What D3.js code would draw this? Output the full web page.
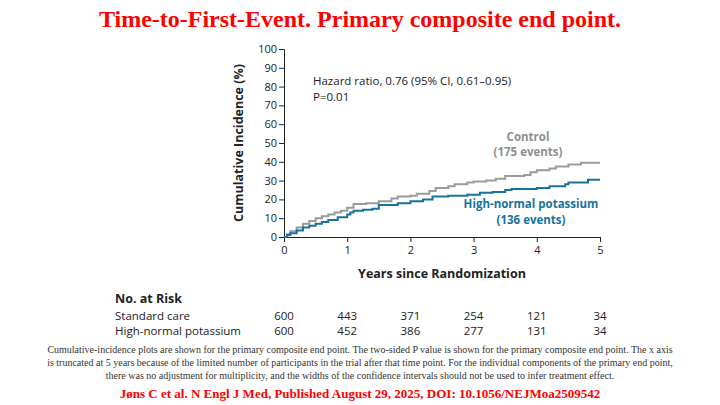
<!DOCTYPE html><html><head><meta charset="utf-8">
<script src="https://cdn.jsdelivr.net/npm/d3@7"></script>
<style>body{margin:0;background:#fff}</style></head><body>
<svg id="c" width="720" height="405"></svg>
<script>
const years=[0,1,2,3,4,5];
const yTicks=[0,10,20,30,40,50,60,70,80,90,100];
const controlCurve=[[0,0],[0.05,1.5],[0.1,3],[0.2,5],[0.3,7],[0.4,8.5],[0.5,10],[0.6,11],[0.7,12],[0.8,13],[0.9,14],[1,15.5],[1.1,17.5],[1.3,18],[1.5,19],[1.7,20.5],[1.8,21.5],[2,22],[2.1,23],[2.3,24.5],[2.4,26],[2.6,27],[2.7,28],[2.9,29],[3,29.5],[3.2,30],[3.35,31],[3.5,32.5],[3.8,33],[3.9,34.5],[4,35.5],[4.2,36.5],[4.3,37.5],[4.5,38.5],[4.7,39.5],[5,39.5]];
const potassiumCurve=[[0,0],[0.05,1],[0.1,2],[0.2,3.5],[0.3,5],[0.4,6],[0.5,7],[0.6,8],[0.7,9],[0.85,10.5],[1,12],[1.05,13],[1.1,14],[1.25,14.5],[1.4,15],[1.5,17],[1.8,18],[2,19],[2.2,20],[2.35,21.5],[2.6,22],[2.9,22.5],[3.1,23.5],[3.3,24],[3.5,25],[3.6,25.5],[4,26],[4.2,27],[4.45,28],[4.5,29],[4.8,29],[4.81,30.5],[5,30.5]];
const riskLabels=["Standard care","High-normal potassium"];
const riskCounts=[[600,443,371,254,121,34],[600,452,386,277,131,34]];
const captionLines=["Cumulative-incidence plots are shown for the primary composite end point. The two-sided P value is shown for the primary composite end point. The x axis","is truncated at 5 years because of the limited number of participants in the trial after that time point. For the individual components of the primary end point,","there was no adjustment for multiplicity, and the widths of the confidence intervals should not be used to infer treatment effect."];

const svg=d3.select("#c");
const x=d3.scaleLinear().domain([0,5]).range([284,600]);
const y=d3.scaleLinear().domain([0,100]).range([237,49]);
const sans="'Open Sans','Noto Sans',sans-serif", serif="'Liberation Serif','DejaVu Serif',serif";
svg.append("text").attr("x",360).attr("y",27).attr("text-anchor","middle").attr("font-family",serif).attr("font-weight","bold").attr("font-size",24).attr("fill","#ff0000").text("Time-to-First-Event. Primary composite end point.");
const ya=svg.append("g").attr("transform","translate(284,0)").call(d3.axisLeft(y).tickValues(yTicks).tickSize(5).tickPadding(2));
const xa=svg.append("g").attr("transform","translate(0,237)").call(d3.axisBottom(x).tickValues(years).tickFormat(d3.format("d")).tickSize(5).tickPadding(4));
[ya,xa].forEach(a=>{a.selectAll("text").attr("font-family",sans).attr("font-size",11).attr("fill","#222");a.selectAll("line,path").attr("stroke","#222");});
svg.append("text").attr("transform","translate(243,143) rotate(-90)").attr("text-anchor","middle").attr("font-family",sans).attr("font-weight","bold").attr("font-size",12.5).attr("fill","#222").text("Cumulative Incidence (%)");
svg.append("text").attr("x",442).attr("y",278).attr("text-anchor","middle").attr("font-family",sans).attr("font-weight","bold").attr("font-size",12.5).attr("fill","#222").text("Years since Randomization");
const line=d3.line().x(d=>x(d[0])).y(d=>y(d[1])).curve(d3.curveStepAfter);
svg.append("path").datum(controlCurve).attr("d",line).attr("fill","none").attr("stroke","#9b9b9b").attr("stroke-width",2);
svg.append("path").datum(potassiumCurve).attr("d",line).attr("fill","none").attr("stroke","#17729e").attr("stroke-width",2);
svg.append("text").attr("x",313).attr("y",85).attr("font-family",sans).attr("font-size",11.5).attr("fill","#222").text("Hazard ratio, 0.76 (95% CI, 0.61\u20130.95)");
svg.append("text").attr("x",313).attr("y",101).attr("font-family",sans).attr("font-size",11.5).attr("fill","#222").text("P=0.01");
[["Control",141],["(175 events)",156]].forEach(t=>svg.append("text").attr("x",528).attr("y",t[1]).attr("text-anchor","middle").attr("font-family",sans).attr("font-weight","bold").attr("font-size",11.5).attr("fill","#8f8f8f").text(t[0]));
[["High-normal potassium",208],["(136 events)",224]].forEach(t=>svg.append("text").attr("x",531).attr("y",t[1]).attr("text-anchor","middle").attr("font-family",sans).attr("font-weight","bold").attr("font-size",11.5).attr("fill","#17729e").text(t[0]));
svg.append("text").attr("x",115).attr("y",303).attr("font-family",sans).attr("font-weight","bold").attr("font-size",12.5).attr("fill","#222").text("No. at Risk");
riskLabels.forEach((l,i)=>{
  const yy=320+i*15;
  svg.append("text").attr("x",115).attr("y",yy).attr("font-family",sans).attr("font-size",11.5).attr("fill","#222").text(l);
  riskCounts[i].forEach((v,j)=>svg.append("text").attr("x",x(years[j])).attr("y",yy).attr("text-anchor","middle").attr("font-family",sans).attr("font-size",11.5).attr("fill","#222").text(v));
});
captionLines.forEach((t,i)=>svg.append("text").attr("x",360).attr("y",353+i*13).attr("text-anchor","middle").attr("font-family",serif).attr("font-size",10).attr("fill","#333").text(t));
svg.append("text").attr("x",360).attr("y",398).attr("text-anchor","middle").attr("font-family",serif).attr("font-weight","bold").attr("font-size",13).attr("fill","#ff0000").text("Jøns C et al. N Engl J Med, Published August 29, 2025, DOI: 10.1056/NEJMoa2509542");
</script></body></html>
